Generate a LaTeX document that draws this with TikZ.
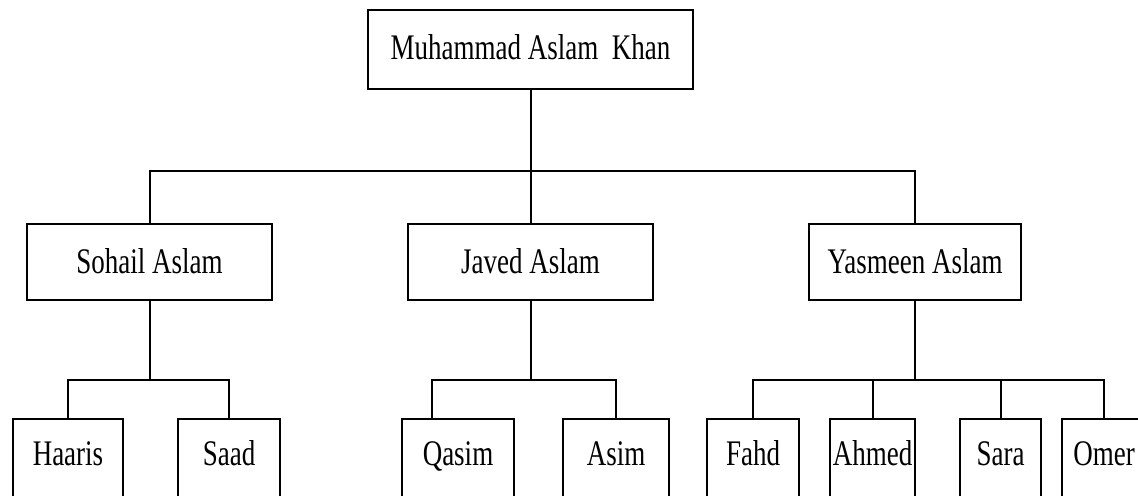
\documentclass[tikz,border=0pt]{standalone}
\usepackage{fontspec}
\setmainfont{Liberation Serif}[FakeStretch=0.75]
\usepackage{tikz}

\tikzset{
  person/.style={draw=black, line width=1pt, rectangle, inner xsep=0pt, inner ysep=0pt,
                 font=\fontsize{18}{20}\selectfont},
  rootbox/.style={person, text height=24.5pt, text depth=15pt},
  parentbox/.style={person, text height=24.5pt, text depth=13.5pt},
  childbox/.style={person, text height=23pt, text depth=27.5pt},
  link/.style={line width=1pt}
}

\begin{document}
\begin{tikzpicture}[x=0.5pt, y=-0.5pt]
            \useasboundingbox (0,0) rectangle (1138,495);
            \clip (0,0) rectangle (1138,495);

            % grandfather
            \node[rootbox, minimum width=162.5pt] (aslam) at (530.5,49.5) {Muhammad Aslam\ \ Khan};

            % children
            \node[parentbox, minimum width=122.5pt] (sohail) at (149.5,262) {Sohail Aslam};
            \node[parentbox, minimum width=122.5pt] (javed) at (530.5,262) {Javed Aslam};
            \node[parentbox, minimum width=106pt] (yasmeen) at (915,262) {Yasmeen Aslam};

            % grandchildren
            \node[childbox, minimum width=55pt] (haaris) at (68,469.5) {Haaris};
            \node[childbox, minimum width=51pt] (saad) at (229,469.5) {Saad};
            \node[childbox, minimum width=56pt] (qasim) at (458,469.5) {Qasim};
            \node[childbox, minimum width=53pt] (asim) at (616,469.5) {Asim};
            \node[childbox, minimum width=46pt] (fahd) at (753,469.5) {Fahd};
            \node[childbox, minimum width=42.5pt] (ahmed) at (872.5,469.5) {Ahmed};
            \node[childbox, minimum width=40.5pt] (sara) at (1000.5,469.5) {Sara};
            \node[childbox, minimum width=42pt] (omer) at (1104,469.5) {Omer};

            % bus lines
            \coordinate (topbus) at (530.5,171);
            \coordinate (sohailbus) at (149.5,380);
            \coordinate (javedbus) at (530.5,380);
            \coordinate (yasmeenbus) at (915,380);

            \draw[link] (aslam.south) -- (javed.north);
            \draw[link] (sohail.north) |- (topbus) -| (yasmeen.north);

            \draw[link] (sohail.south) -- (sohailbus);
            \draw[link] (haaris.north) |- (sohailbus) -| (saad.north);

            \draw[link] (javed.south) -- (javedbus);
            \draw[link] ([xshift=-13pt]qasim.north) |- (javedbus) -| (asim.north);

            \draw[link] (yasmeen.south) -- (yasmeenbus);
            \draw[link] (fahd.north) |- (yasmeenbus) -| (omer.north);
            \draw[link] (ahmed.north) -- (ahmed.north |- yasmeenbus);
            \draw[link] (sara.north) -- (sara.north |- yasmeenbus);
        \end{tikzpicture}
\end{document}
